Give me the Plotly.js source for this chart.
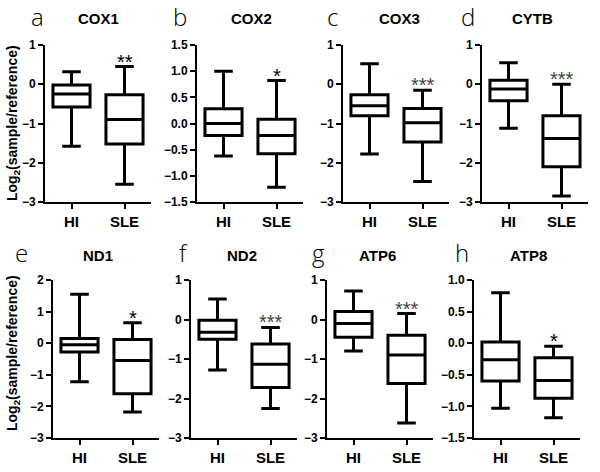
<!DOCTYPE html>
<html>
<head>
<meta charset="utf-8">
<script src="https://cdn.plot.ly/plotly-3.0.1.min.js"></script>
<style>html,body{margin:0;padding:0;background:#fff}#chart{width:600px;height:472px}</style>
</head>
<body>
<div id="chart"></div>
<script>
// ---- data ----
const genes   = ['COX1','COX2','COX3','CYTB','ND1','ND2','ATP6','ATP8'];
const letters = ['a','b','c','d','e','f','g','h'];
const groups  = ['HI','SLE'];

const hiLow   = [-1.58, -0.62, -1.78, -1.12, -1.22, -1.28, -0.80, -1.03];
const hiQ1    = [-0.58, -0.23, -0.80, -0.42, -0.28, -0.50, -0.45, -0.60];
const hiMed   = [-0.25,  0.00, -0.55, -0.12, -0.05, -0.32, -0.10, -0.26];
const hiQ3    = [-0.02,  0.28, -0.27,  0.10,  0.15, -0.02,  0.20,  0.02];
const hiHigh  = [ 0.32,  1.00,  0.52,  0.55,  1.55,  0.52,  0.72,  0.80];

const sleLow  = [-2.55, -1.22, -2.48, -2.85, -2.18, -2.25, -2.62, -1.18];
const sleQ1   = [-1.52, -0.58, -1.47, -2.10, -1.60, -1.72, -1.62, -0.87];
const sleMed  = [-0.90, -0.23, -0.98, -1.38, -0.55, -1.13, -0.90, -0.59];
const sleQ3   = [-0.27,  0.08, -0.62, -0.80,  0.12, -0.62, -0.40, -0.23];
const sleHigh = [ 0.45,  0.82, -0.15,  0.00,  0.65, -0.20,  0.15, -0.05];

const stars   = ['**','*','***','***','*','***','***','*'];
const yMin    = [-3, -1.5, -3, -3, -3, -3, -3, -1.5];
const yMax    = [ 1,  1.5,  1,  1,  2,  1,  1,  1.0];
const yStep   = [ 1,  0.5,  1,  1,  1,  1,  1,  0.5];
const yTitle  = 'Log<sub>2</sub>(sample/reference)';

// ---- layout geometry (pixels) ----
const W = 600, H = 472;
const axisLeft = [45, 197, 343, 482, 53, 191, 327, 474];
const plotW = 106;
const rowTop = [45, 280], rowBot = [202, 438];
const letterX = [37, 180, 332, 468, 21, 183, 318, 462];
const letterY = [16, 16, 16, 16, 252, 252, 252, 252];
const titleX  = [98, 251, 399, 532, 98, 242, 377, 528];
const titleY  = [18, 18, 18, 18, 255, 255, 255, 255];
const px = x => x / W, py = y => 1 - y / H;

const FONT = 'Liberation Sans, Arial, sans-serif';
const traces = [];
const layout = {
  width: W, height: H,
  margin: {l: 0, r: 0, t: 0, b: 0},
  paper_bgcolor: '#fff', plot_bgcolor: '#fff',
  showlegend: false,
  annotations: []
};

genes.forEach((g, i) => {
  const n = i + 1;
  const xa = 'x' + (n === 1 ? '' : n), ya = 'y' + (n === 1 ? '' : n);
  const row = i < 4 ? 0 : 1;
  traces.push({
    type: 'box', xaxis: xa, yaxis: ya,
    x: groups,
    lowerfence: [hiLow[i], sleLow[i]],
    q1: [hiQ1[i], sleQ1[i]],
    median: [hiMed[i], sleMed[i]],
    q3: [hiQ3[i], sleQ3[i]],
    upperfence: [hiHigh[i], sleHigh[i]],
    width: 0.7, whiskerwidth: 0.5,
    boxpoints: false,
    fillcolor: '#ffffff',
    line: {color: '#000', width: 3},
    hoverinfo: 'skip'
  });
  layout['xaxis' + (n === 1 ? '' : n)] = {
    domain: [px(axisLeft[i]), px(axisLeft[i] + plotW)],
    anchor: ya, type: 'category', range: [-0.5, 1.5],
    showline: true, linecolor: '#000', linewidth: 2,
    ticks: 'outside', ticklen: 5, tickwidth: 2, tickcolor: '#000',
    showgrid: false, zeroline: false, fixedrange: true,
    tickfont: {family: FONT, size: 15, weight: 'bold', color: '#000'}
  };
  layout['yaxis' + (n === 1 ? '' : n)] = {
    domain: [py(rowBot[row]), py(rowTop[row])],
    anchor: xa, range: [yMin[i], yMax[i]],
    tick0: yMin[i], dtick: yStep[i],
    tickformat: yStep[i] < 1 ? '.1f' : 'd',
    showline: true, linecolor: '#000', linewidth: 2,
    ticks: 'outside', ticklen: 5, tickwidth: 2, tickcolor: '#000',
    showgrid: false, zeroline: false, fixedrange: true,
    tickfont: {family: FONT, size: 12, weight: 'bold', color: '#000'}
  };
  // panel letter
  layout.annotations.push({
    xref: 'paper', yref: 'paper', x: px(letterX[i]), y: py(letterY[i]),
    xanchor: 'center', yanchor: 'middle', showarrow: false,
    text: letters[i], font: {family: 'Open Sans, sans-serif', size: 24, weight: 300, color: '#000'}
  });
  // gene title
  layout.annotations.push({
    xref: 'paper', yref: 'paper', x: px(titleX[i]), y: py(titleY[i]),
    xanchor: 'center', yanchor: 'middle', showarrow: false,
    text: g, font: {family: FONT, size: 15, weight: 'bold', color: '#000'}
  });
  // significance stars
  layout.annotations.push({
    xref: xa, yref: ya, x: 'SLE', y: sleHigh[i],
    xanchor: 'center', yanchor: 'bottom', yshift: -8, showarrow: false,
    text: stars[i], font: {family: FONT, size: 20, color: stars[i] === '***' ? '#444' : '#000'}
  });
});

// y-axis titles (panels a and e)
[[123], [353]].forEach(([yc]) => {
  layout.annotations.push({
    xref: 'paper', yref: 'paper', x: px(13), y: py(yc),
    xanchor: 'center', yanchor: 'middle', showarrow: false, textangle: -90,
    text: yTitle, font: {family: FONT, size: 14, weight: 'bold', color: '#000'}
  });
});

Plotly.newPlot('chart', traces, layout, {displayModeBar: false, staticPlot: true});
</script>
</body>
</html>
